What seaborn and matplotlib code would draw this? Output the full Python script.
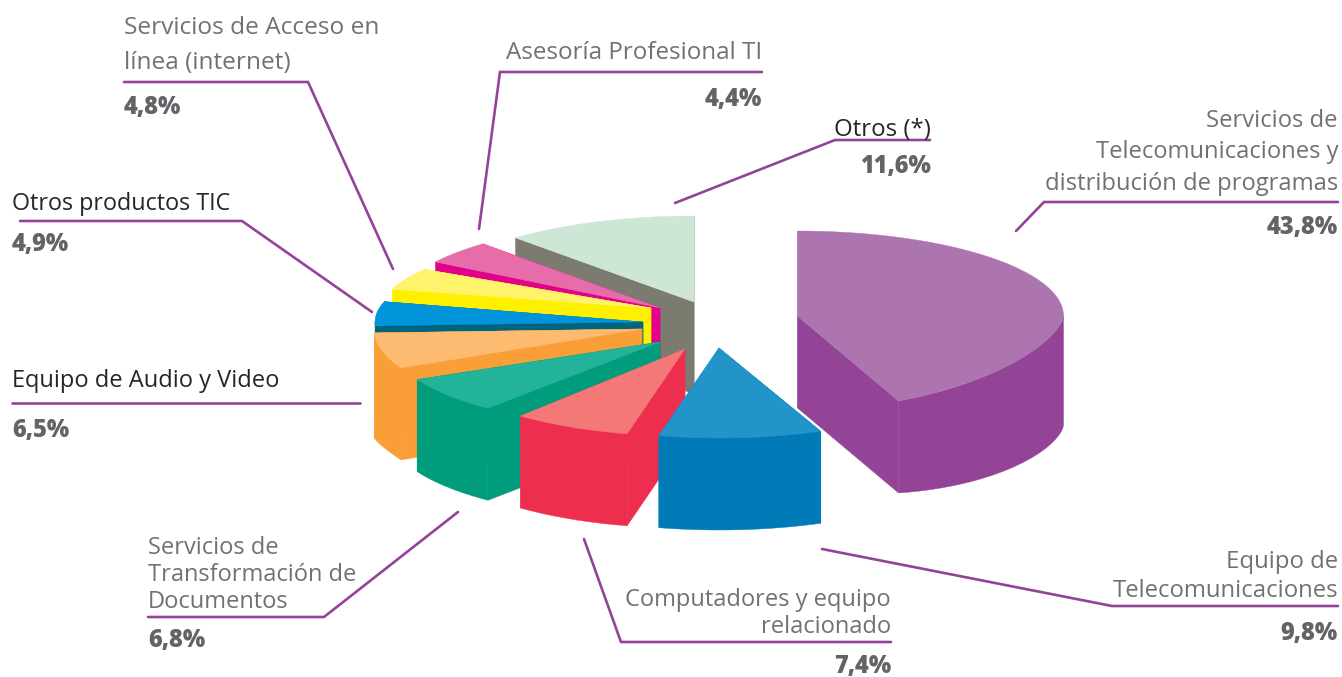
import numpy as np
import matplotlib
matplotlib.use("Agg")
import matplotlib.pyplot as plt
from matplotlib.patches import Polygon
import seaborn as sns

# ---------- data ----------
categories = ["Otros (*)",
              "Servicios de\nTelecomunicaciones y\ndistribución de programas",
              "Equipo de\nTelecomunicaciones",
              "Computadores y equipo\nrelacionado",
              "Servicios de\nTransformación de\nDocumentos",
              "Equipo de Audio y Video",
              "Otros productos TIC",
              "Servicios de Acceso en\nlínea (internet)",
              "Asesoría Profesional TI"]
values = [11.6, 43.8, 9.8, 7.4, 6.8, 6.5, 4.9, 4.8, 4.4]

# ---------- style ----------
top_colors = ["#CDE6D6", "#AD75B0", "#2394C9", "#F47976", "#23B29A",
              "#FDBB72", "#0095DA", "#FFF36C", "#E76CAA"]
wall_colors = ["#7B7B70", "#944497", "#007BB8", "#EE2E4F", "#009C7B",
               "#FA9F38", "#00647F", "#FFF000", "#E2008D"]
PURPLE = "#93439A"
GREY = "#707174"
BOLD_GREY = "#636467"
DARK = "#262626"

# ---------- pie geometry (pixels) ----------
centre = (690.0, 325.0)
# explode offset of every slice from the pie centre
explode = [(4, -23), (107.5, -9), (29, 23), (-5, 24), (-30, 17),
           (-48, 4), (-47, -3), (-39, -17), (-30, -17)]
radius_x = [268, 266, 268, 258, 270, 268, 268, 268, 266]
radius_back = [86, 85, 87, 87, 87, 87, 78, 72, 86]
radius_front = [87, 94, 90, 87, 86, 89, 87, 87, 87]
front_power = [1, 1.3, 1, 1, 1, 1, 1, 1, 1]
# wall height at the start / end of each slice's sweep
depths = [(92, 92), (109, 92), (92, 92), (92, 92), (92, 92),
          (92, 105), (92, 92), (92, 92), (92, 92)]
paint_order = [0, 8, 7, 6, 5, 4, 3, 1, 2]

# ---------- labels layout: (x, ha, first baseline, line step, percent baseline, colour, size) ----------
label_layout = [
    (931, "right", 136, 0, 173, DARK, 17.3),
    (1338, "right", 127, 31.5, 234, GREY, 17.1),
    (1338, "right", 568, 29, 640, GREY, 17.2),
    (891, "right", 606, 27, 673, GREY, 17.0),
    (148, "left", 554, 27, 647, GREY, 17.0),
    (12, "left", 387, 0, 437, DARK, 17.0),
    (12, "left", 210, 0, 251, DARK, 16.8),
    (124, "left", 34, 35, 114, GREY, 17.6),
    (762, "right", 59, 0, 106, GREY, 17.4),
]
PCT_SIZE = 17.0
leaders = [
    [(930, 140), (835, 140), (675, 203)],
    [(1338, 202), (1044, 202), (1016, 231)],
    [(1338, 606), (1112, 606), (822, 549)],
    [(891, 642), (621, 642), (584, 539)],
    [(148, 617), (324, 617), (458, 512)],
    [(12, 403), (360, 403)],
    [(20, 221), (242, 221), (372, 312)],
    [(124, 82), (308, 82), (393, 269)],
    [(762, 72), (500, 72), (479, 229)],
]

sns.set_theme(style="white")
plt.rcParams["font.family"] = ["Open Sans", "DejaVu Sans"]
tops = sns.color_palette(top_colors)
walls = sns.color_palette(wall_colors)

fig, ax = plt.subplots(figsize=(13.42, 6.77), dpi=100)
ax.set_position([0, 0, 1, 1])
ax.set_xlim(0, 1342)
ax.set_ylim(677, 0)
ax.axis("off")


def point(i, apex, theta):
    t = np.radians(np.atleast_1d(theta))
    s = np.sin(t)
    off = np.where(s >= 0, radius_back[i] * s,
                   radius_front[i] * np.abs(s) ** front_power[i] * -1)
    return np.column_stack([apex[0] + radius_x[i] * np.cos(t), apex[1] - off])


# sweep clockwise from 12 o'clock; the first slice ends there
vals = np.array(values)
sweeps = vals / vals.sum() * 360.0
first_start = 90.0 + sweeps[0]
ends = first_start - np.cumsum(sweeps)
starts = ends + sweeps


def draw_slice(i, z):
    apex = (centre[0] + explode[i][0], centre[1] + explode[i][1])
    th0, th1 = starts[i], ends[i]
    thetas = np.linspace(th0, th1, 200)
    arc = point(i, apex, thetas)
    d0, d1 = depths[i]
    apex_depth = 92.0

    # cut faces
    for th, d in ((th0, d0), (th1, d1)):
        p = point(i, apex, th)[0]
        ax.add_patch(Polygon([apex, p, (p[0], p[1] + d), (apex[0], apex[1] + apex_depth)],
                             closed=True, facecolor=walls[i], edgecolor=walls[i],
                             lw=0.3, zorder=z))
    # outer wall: only the part that faces the viewer
    front = np.sin(np.radians(thetas)) < 0.001
    if i == 5:
        front = np.ones_like(thetas, dtype=bool)
    if front.sum() > 1:
        frac = np.linspace(0, 1, front.sum())
        d = d0 + (d1 - d0) * frac ** 2
        a = arc[front]
        low = a + np.column_stack([np.zeros(len(a)), d])
        ax.add_patch(Polygon(np.vstack([a, low[::-1]]), closed=True,
                             facecolor=walls[i], edgecolor=walls[i], lw=0.3, zorder=z + 0.1))
    # top surface
    ax.add_patch(Polygon(np.vstack([[apex], arc]), closed=True,
                         facecolor=tops[i], edgecolor=tops[i], lw=0.3, zorder=z + 0.2))


for z, i in enumerate(paint_order):
    draw_slice(i, z + 1)

for pts in leaders:
    xs, ys = zip(*pts)
    ax.plot(xs, ys, color=PURPLE, lw=1.9, solid_joinstyle="miter", zorder=20)

for name, v, (x, ha, y0, step, yp, col, fs) in zip(categories, values, label_layout):
    for k, line in enumerate(name.split("\n")):
        ax.text(x, y0 + k * step, line, ha=ha, va="baseline", fontsize=fs, color=col, zorder=30)
    ax.text(x, yp, f"{v:.1f}".replace(".", ",") + "%", ha=ha, va="baseline",
            fontsize=PCT_SIZE, fontweight=800, color=BOLD_GREY, zorder=30)

fig.savefig("out.png", dpi=100, facecolor="white")
